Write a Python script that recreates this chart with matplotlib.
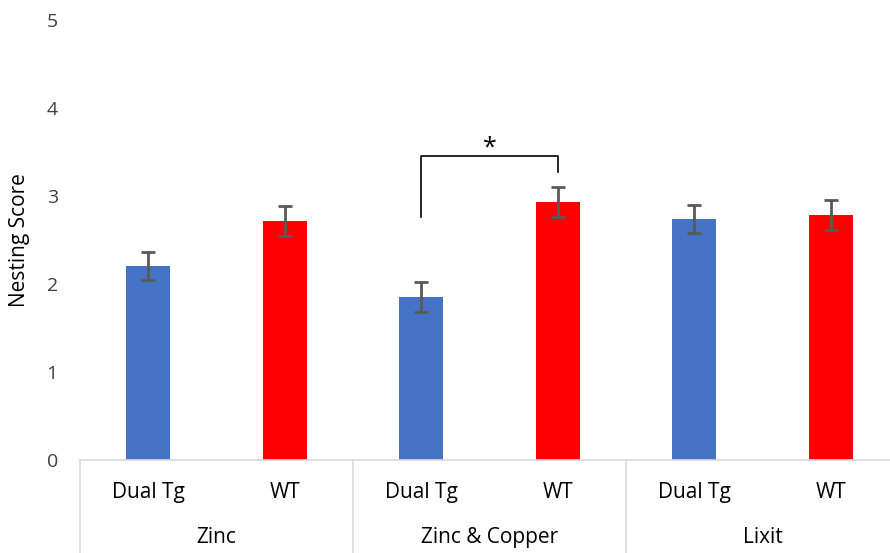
import matplotlib.pyplot as plt
import matplotlib.transforms as mtransforms

groups = ['Zinc', 'Zinc & Copper', 'Lixit']
genotypes = ['Dual Tg', 'WT']
scores = [2.20, 2.72, 1.85, 2.93, 2.74, 2.78]
errors = [0.16, 0.17, 0.17, 0.17, 0.16, 0.17]
colors = ['#4472C4', '#FF0000']
y_ticks = [0, 1, 2, 3, 4, 5]

plt.rcParams['font.family'] = ['Open Sans', 'DejaVu Sans']

fig = plt.figure(figsize=(8.9, 5.53), dpi=100)
ax = fig.add_axes([80 / 890, 93 / 553, 819 / 890, 440 / 553])

x = list(range(len(scores)))
bar_colors = [colors[i % 2] for i in x]
ax.bar(x, scores, width=0.32, color=bar_colors, zorder=2)
ax.errorbar(x, scores, yerr=errors, fmt='none', ecolor='#595959',
            elinewidth=2, capsize=5, capthick=2, zorder=3)

ax.set_xlim(-0.5, 5.5)
ax.set_ylim(0, 5)
ax.set_yticks(y_ticks)
ax.tick_params(axis='y', length=0, pad=16, labelsize=14, labelcolor='#404040')
ax.set_xticks([])
for s in ['top', 'right', 'left']:
    ax.spines[s].set_visible(False)
ax.spines['bottom'].set_color('#d9d9d9')
ax.spines['bottom'].set_linewidth(1.2)
ax.set_ylabel('Nesting Score', fontsize=15, color='black')
ax.yaxis.set_label_coords(-0.061, 0.5)

# two-level category axis
trans = mtransforms.blended_transform_factory(ax.transData, ax.transAxes)
for xs in [-0.5, 1.5, 3.5, 5.5]:
    ax.plot([xs, xs], [0, -0.23], transform=trans, color='#d9d9d9',
            lw=1.2, clip_on=False)
for i in x:
    ax.text(i, -0.073, genotypes[i % 2], transform=trans, ha='center',
            va='center', fontsize=15, color='black')
for g, name in enumerate(groups):
    ax.text(2 * g + 0.5, -0.177, name, transform=trans, ha='center',
            va='center', fontsize=15, color='black')

# significance bracket
ax.plot([2, 2, 3, 3], [2.76, 3.45, 3.45, 3.27], color='black', lw=1.2)
ax.text(2.5, 3.54, '*', ha='center', va='center', fontsize=18)

fig.savefig('out.png', dpi=100)
